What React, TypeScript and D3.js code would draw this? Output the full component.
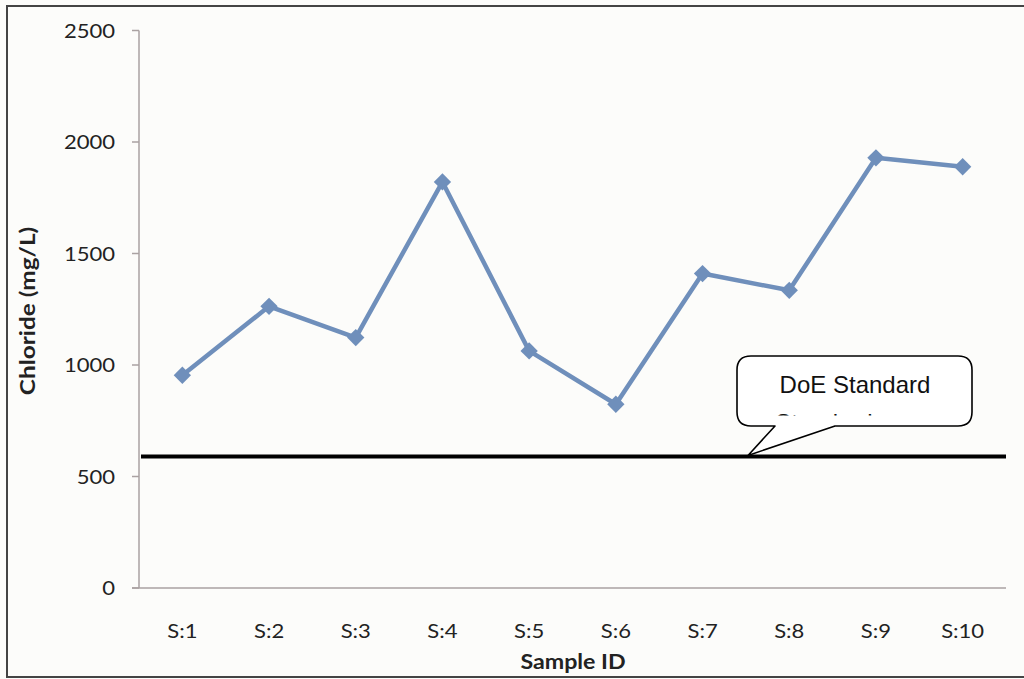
import React from "react";
import * as d3 from "d3";

// Chloride concentration per sample
const categories = ["S:1", "S:2", "S:3", "S:4", "S:5", "S:6", "S:7", "S:8", "S:9", "S:10"];
const chloride = [954, 1263, 1123, 1821, 1063, 824, 1410, 1335, 1929, 1889];
const yTicks = [0, 500, 1000, 1500, 2000, 2500];
const doeStandard = 590;
const calloutLabel = "DoE Standard";
const calloutHidden = "Standard";

const W = 1024;
const H = 679;
const left = 139;
const right = 1006;
const top = 30.5;
const bottom = 588;

const FONT = "Lato, 'Open Sans', sans-serif";
const SX = 1.16;

function Stretched(props: {
  x: number;
  y: number;
  anchor?: "start" | "middle" | "end";
  size: number;
  weight?: number | string;
  children: React.ReactNode;
  rotate?: number;
}) {
  const { x, y, anchor = "middle", size, weight = 400, children, rotate = 0 } = props;
  return (
    <text
      transform={`translate(${x},${y}) rotate(${rotate}) scale(${SX},1)`}
      textAnchor={anchor}
      fontFamily={FONT}
      fontSize={size}
      fontWeight={weight}
      fill="#222"
    >
      {children}
    </text>
  );
}

export default function App() {
  const x = d3.scalePoint<string>().domain(categories).range([left, right]).padding(0.5);
  const y = d3.scaleLinear().domain([0, 2500]).range([bottom, top]);

  const line = d3
    .line<number>()
    .x((_, i) => x(categories[i]) as number)
    .y((d) => y(d));

  const diamond = d3.symbol().type(d3.symbolSquare).size(150)() as string;

  const stdY = y(doeStandard);

  // callout box geometry
  const bx0 = 737;
  const bx1 = 972;
  const by0 = 356;
  const by1 = 426;
  const r = 14;
  const tipX = 748;
  const tipY = stdY - 1;
  const callout = [
    `M ${bx0 + r} ${by0}`,
    `H ${bx1 - r}`,
    `Q ${bx1} ${by0} ${bx1} ${by0 + r}`,
    `V ${by1 - r}`,
    `Q ${bx1} ${by1} ${bx1 - r} ${by1}`,
    `H 835`,
    `L ${tipX} ${tipY}`,
    `L 775 ${by1}`,
    `H ${bx0 + r}`,
    `Q ${bx0} ${by1} ${bx0} ${by1 - r}`,
    `V ${by0 + r}`,
    `Q ${bx0} ${by0} ${bx0 + r} ${by0}`,
    "Z",
  ].join(" ");

  return (
    <svg
      width={W}
      height={H}
      style={{ position: "absolute", left: 0, top: 0, background: "#fcfcfa" }}
    >
      <defs>
        <clipPath id="hiddenLine">
          <rect x={bx0} y={413} width={bx1 - bx0} height={2.5} />
        </clipPath>
      </defs>

      {/* outer frame */}
      <path d={`M ${W} 6 H 7 V 677 H ${W}`} fill="none" stroke="#444" strokeWidth={2} />

      {/* y axis */}
      <line x1={left} x2={left} y1={top} y2={bottom} stroke="#aaa2a2" strokeWidth={1.5} />
      {yTicks.map((t) => (
        <g key={t}>
          <line x1={132} x2={left} y1={y(t)} y2={y(t)} stroke="#aaa2a2" strokeWidth={1.5} />
          <Stretched x={115} y={y(t) + 7} anchor="end" size={19}>
            {t}
          </Stretched>
        </g>
      ))}

      {/* x axis */}
      <line x1={132} x2={right} y1={bottom} y2={bottom} stroke="#aaa2a2" strokeWidth={1.5} />
      {categories.map((c) => (
        <Stretched key={c} x={x(c) as number} y={638} size={19}>
          {c}
        </Stretched>
      ))}

      {/* axis titles */}
      <Stretched x={573} y={669} size={20} weight={700}>
        Sample ID
      </Stretched>
      <text
        transform={`translate(35,311) rotate(-90) scale(1.16,1)`}
        textAnchor="middle"
        fontFamily={FONT}
        fontSize={21}
        fontWeight={700}
        fill="#222"
      >
        Chloride (mg/L)
      </text>

      {/* DoE standard line */}
      <line x1={141} x2={right} y1={stdY} y2={stdY} stroke="#000" strokeWidth={4} />

      {/* callout */}
      <path d={callout} fill="#fff" stroke="#000" strokeWidth={1.6} strokeLinejoin="round" />
      <text
        x={855}
        y={393}
        textAnchor="middle"
        fontFamily="'Liberation Sans', Arial, sans-serif"
        fontSize={24}
        fill="#111"
      >
        {calloutLabel}
      </text>
      <text
        x={824}
        y={431}
        textAnchor="middle"
        fontFamily="'Liberation Sans', Arial, sans-serif"
        fontSize={24}
        fill="#111"
        clipPath="url(#hiddenLine)"
      >
        {calloutHidden}
      </text>

      {/* chloride series */}
      <path d={line(chloride) as string} fill="none" stroke="#6f8fbb" strokeWidth={4.5} strokeLinejoin="round" />
      {chloride.map((v, i) => (
        <path
          key={categories[i]}
          d={diamond}
          transform={`translate(${x(categories[i])},${y(v)}) rotate(45)`}
          fill="#6f8fbb"
        />
      ))}
    </svg>
  );
}
